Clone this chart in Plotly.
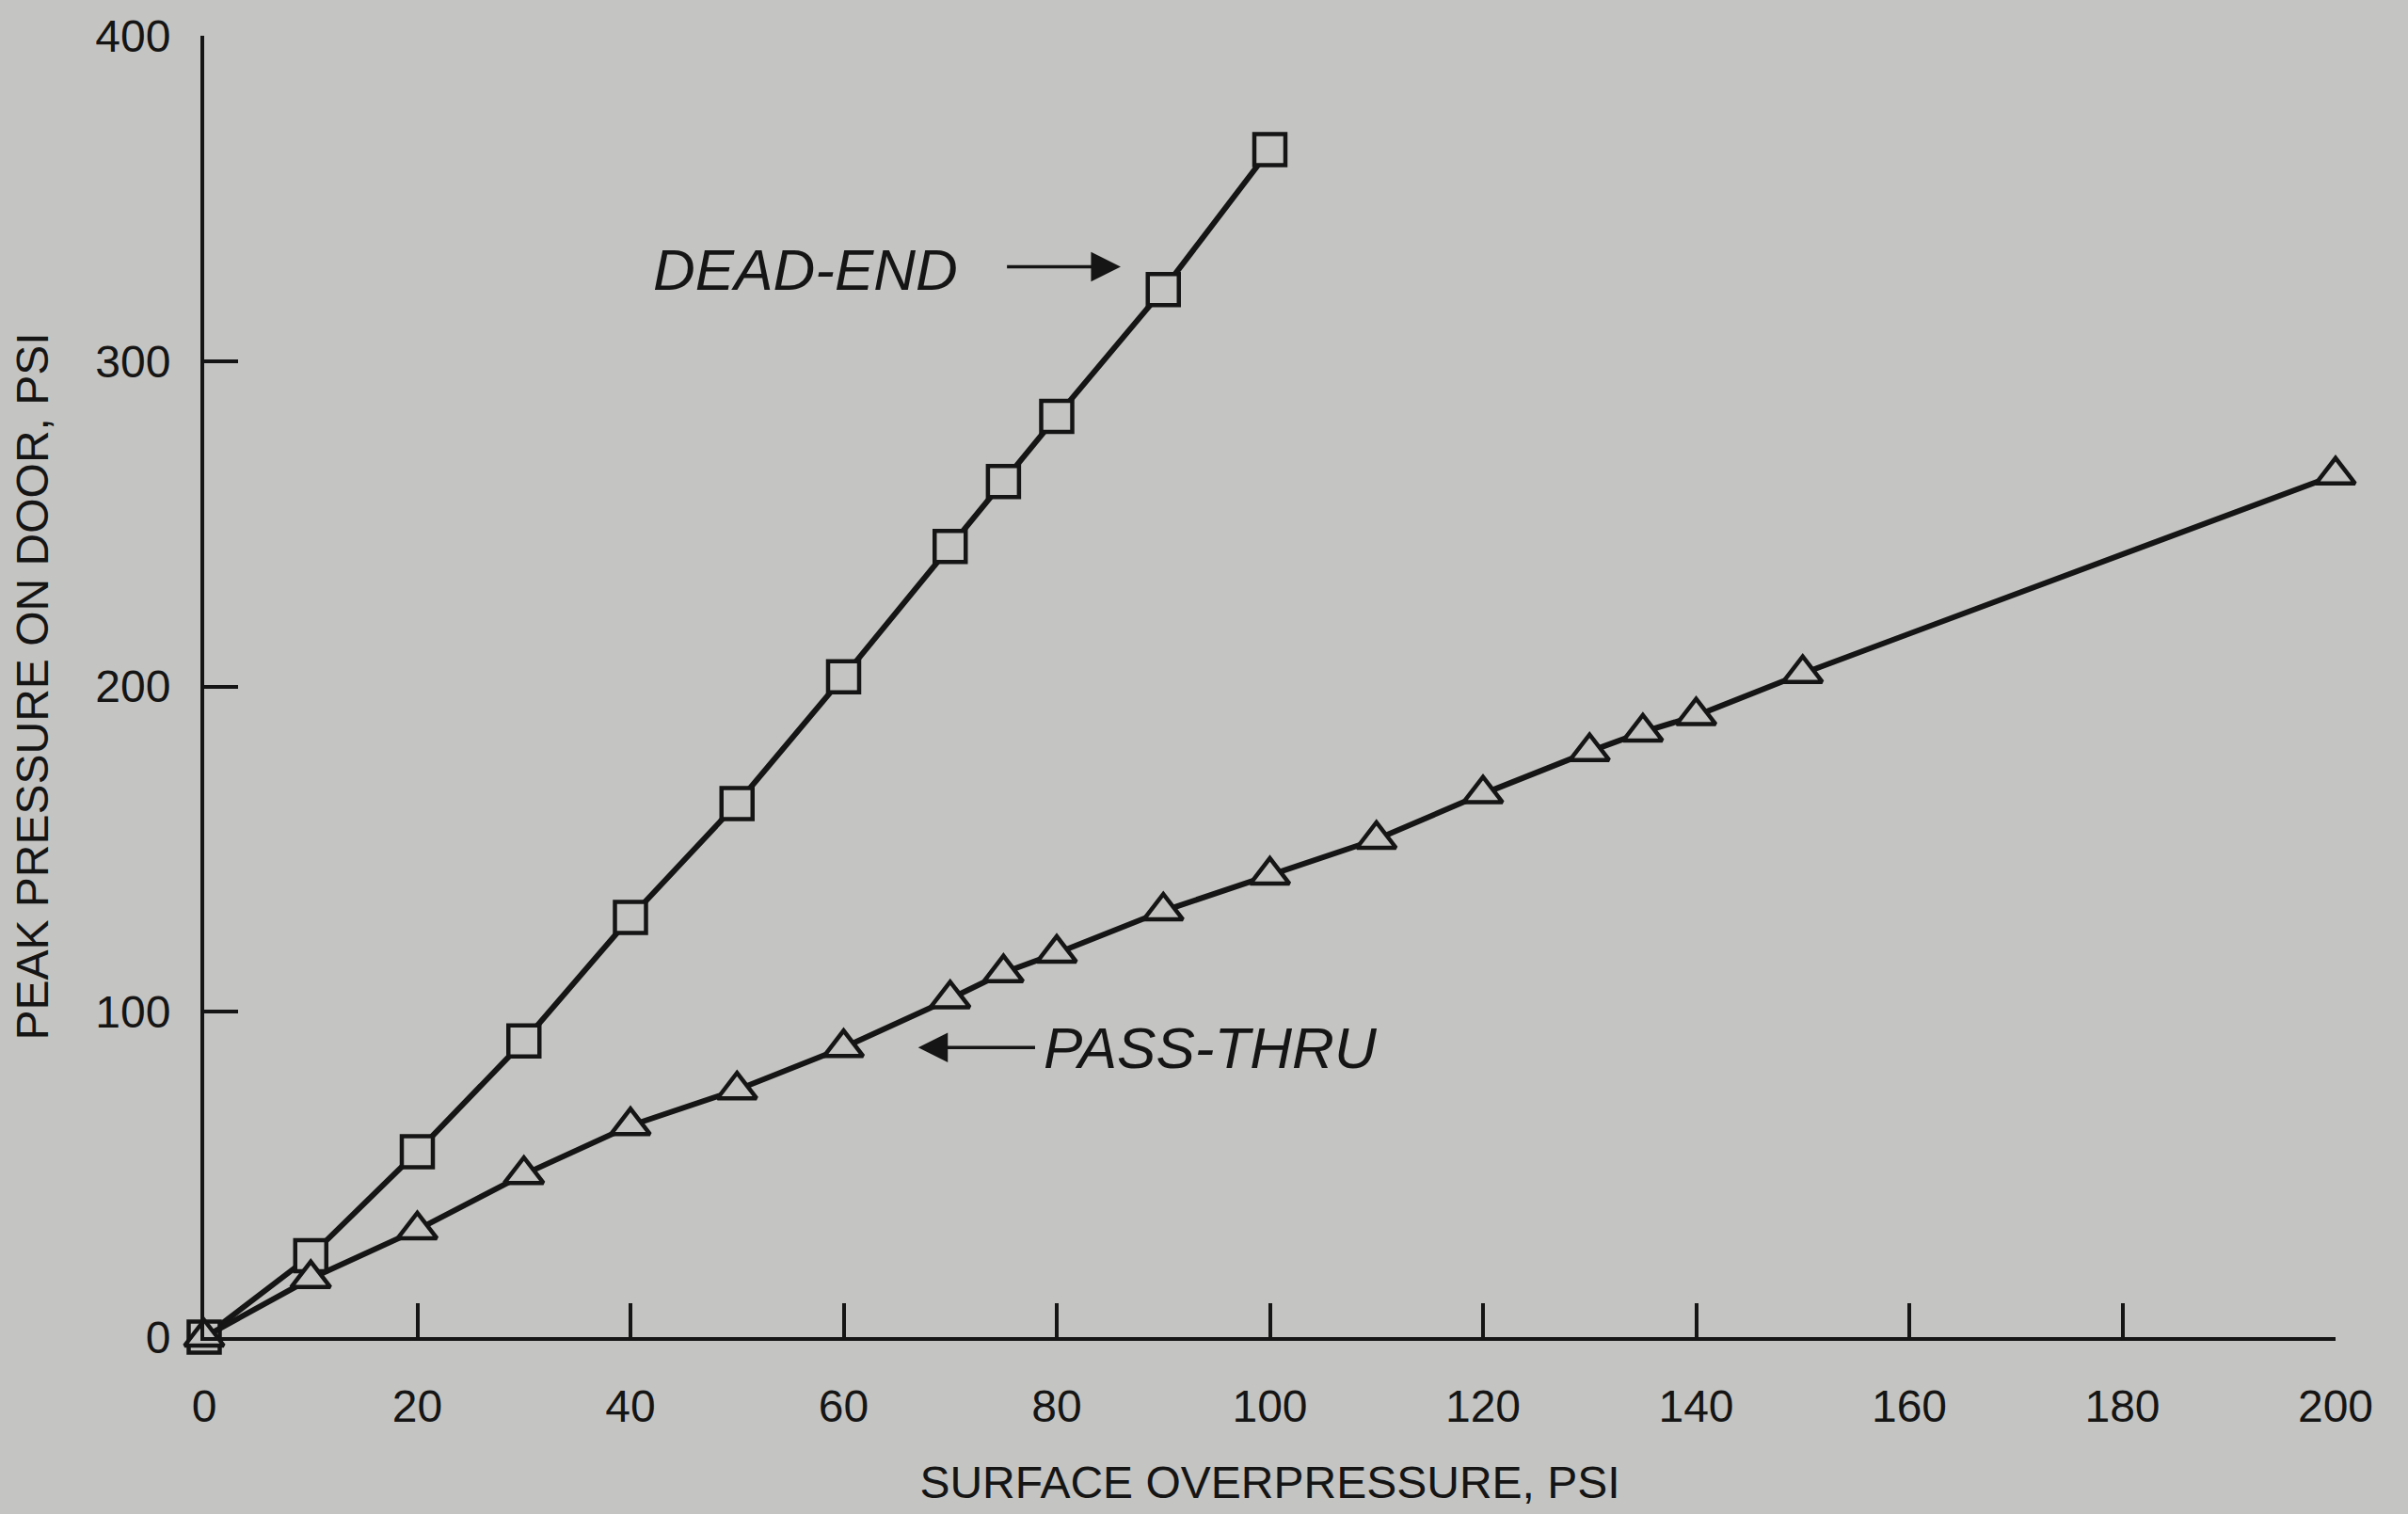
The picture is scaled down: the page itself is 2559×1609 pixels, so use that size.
import plotly.graph_objs as go

# surface overpressure (psi) and peak pressure on door (psi)
dead_end_x = [0, 10, 20, 30, 40, 50, 60, 70, 75, 80, 90, 100]
dead_end_y = [0, 25, 57, 91, 129, 164, 203, 243, 263, 283, 322, 365]

pass_thru_x = [0, 10, 20, 30, 40, 50, 60, 70, 75, 80, 90, 100, 110, 120, 130, 135, 140, 150, 200]
pass_thru_y = [0, 18, 33, 50, 65, 76, 89, 104, 112, 118, 131, 142, 153, 167, 180, 186, 191, 204, 265]

x_ticks = [0, 20, 40, 60, 80, 100, 120, 140, 160, 180, 200]
y_ticks = [0, 100, 200, 300, 400]

bg = 'rgb(196,196,194)'
ink = '#151515'
font = 'Liberation Sans, Arial, sans-serif'

fig = go.Figure()

fig.add_trace(go.Scatter(
    x=dead_end_x, y=dead_end_y,
    mode='lines+markers',
    line=dict(color=ink, width=6),
    marker=dict(symbol='square', size=33, color=bg,
                line=dict(color=ink, width=4.5)),
    cliponaxis=False,
    name='DEAD-END',
))

fig.add_trace(go.Scatter(
    x=pass_thru_x, y=pass_thru_y,
    mode='lines+markers',
    line=dict(color=ink, width=6),
    marker=dict(symbol='triangle-up', size=36, color=bg,
                line=dict(color=ink, width=4.5)),
    cliponaxis=False,
    name='PASS-THRU',
))

fig.update_layout(
    width=2559, height=1609,
    paper_bgcolor=bg,
    plot_bgcolor=bg,
    showlegend=False,
    margin=dict(l=217, r=77, t=36, b=188),
    font=dict(family=font, color=ink, size=48),
    xaxis=dict(
        range=[0, 200],
        tickvals=x_ticks,
        ticks='inside', ticklen=36, tickwidth=4, tickcolor=ink,
        showline=True, linecolor=ink, linewidth=4,
        showgrid=False, zeroline=False,
        tickfont=dict(size=48),
        ticklabelstandoff=28,
        title=dict(text='SURFACE OVERPRESSURE, PSI', font=dict(size=48), standoff=40),
    ),
    yaxis=dict(
        range=[0, 400],
        tickvals=y_ticks,
        ticks='inside', ticklen=36, tickwidth=4, tickcolor=ink,
        showline=True, linecolor=ink, linewidth=4,
        showgrid=False, zeroline=False,
        tickfont=dict(size=48),
        ticklabelstandoff=22,
        title=dict(text='PEAK PRESSURE ON DOOR, PSI', font=dict(size=48), standoff=36),
    ),
)

# curve labels with arrows
fig.add_annotation(x=56.4, y=328, text='<i>DEAD-END</i>', showarrow=False,
                   font=dict(size=62, family=font, color=ink))
fig.add_annotation(x=86, y=329, ax=75.2, ay=329, axref='x', ayref='y',
                   text='', showarrow=True, arrowhead=2, arrowsize=1.8,
                   arrowwidth=3.5, arrowcolor=ink)

fig.add_annotation(x=94.4, y=89, text='<i>PASS-THRU</i>', showarrow=False,
                   font=dict(size=62, family=font, color=ink))
fig.add_annotation(x=67, y=89, ax=78.1, ay=89, axref='x', ayref='y',
                   text='', showarrow=True, arrowhead=2, arrowsize=1.8,
                   arrowwidth=3.5, arrowcolor=ink)

# drop the default page margin so the figure fills the window edge to edge
fig.write_html("out.html", config={'displayModeBar': False},
               post_script="document.body.style.margin='0';")
